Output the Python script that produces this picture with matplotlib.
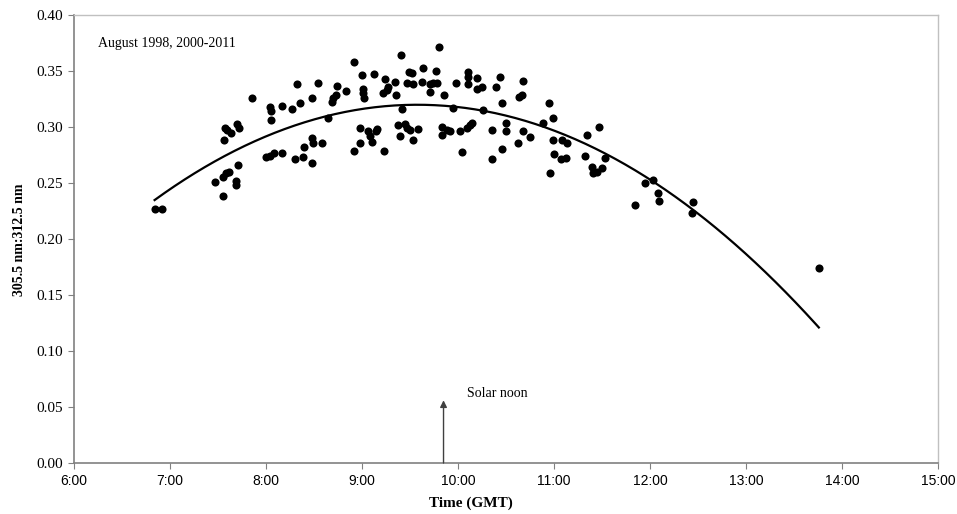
import numpy as np
import matplotlib
matplotlib.use("Agg")
import matplotlib.pyplot as plt
from matplotlib.ticker import FuncFormatter, MultipleLocator

# observation time (decimal hours GMT) and ratio 305.5 nm : 312.5 nm
times = [6.84, 6.92, 7.55, 7.47, 7.55, 7.58, 7.61, 7.69, 7.69, 7.71,
         7.56, 7.57, 7.59, 7.64, 7.70, 7.72, 7.85, 8.00, 8.04, 8.08,
         8.17, 8.04, 8.05, 8.05, 8.17, 8.27, 8.32, 8.30, 8.35, 8.39,
         8.48, 8.40, 8.48, 8.49, 8.58, 8.48, 8.54, 8.65, 8.69, 8.70,
         8.73, 8.74, 8.83, 8.92, 9.00, 9.01, 9.01, 9.02, 9.13, 9.24,
         9.22, 9.26, 9.27, 9.34, 9.35, 9.41, 9.42, 9.49, 9.52, 9.47,
         9.53, 9.64, 9.63, 9.71, 9.71, 9.74, 9.77, 9.78, 9.80, 9.85,
         8.92, 8.98, 8.98, 9.06, 9.08, 9.10, 9.15, 9.16, 9.23, 9.38,
         9.40, 9.45, 9.47, 9.50, 9.53, 9.58, 9.83, 9.83, 9.89, 9.95,
         9.92, 10.02, 10.04, 9.98, 10.10, 10.10, 10.10, 10.20, 10.20, 10.25,
         10.09, 10.13, 10.15, 10.26, 10.35, 10.36, 10.40, 10.44, 10.46, 10.46,
         10.50, 10.50, 10.63, 10.64, 10.67, 10.68, 10.68, 10.75, 10.89, 10.95,
         10.96, 10.99, 10.99, 11.00, 11.07, 11.13, 11.08, 11.14, 11.32, 11.34,
         11.40, 11.41, 11.45, 11.47, 11.53, 11.50, 11.95, 12.03, 12.08, 12.10,
         11.84, 12.45, 12.44, 13.76]
ratios = [0.227, 0.227, 0.238, 0.251, 0.255, 0.259, 0.260, 0.252, 0.248, 0.266,
          0.288, 0.299, 0.297, 0.295, 0.303, 0.299, 0.326, 0.273, 0.274, 0.277,
          0.277, 0.318, 0.314, 0.306, 0.319, 0.316, 0.338, 0.271, 0.321, 0.273,
          0.268, 0.282, 0.290, 0.286, 0.286, 0.326, 0.339, 0.308, 0.322, 0.326,
          0.329, 0.337, 0.332, 0.358, 0.346, 0.334, 0.330, 0.326, 0.347, 0.343,
          0.330, 0.333, 0.336, 0.340, 0.329, 0.364, 0.316, 0.349, 0.348, 0.339,
          0.338, 0.353, 0.340, 0.338, 0.331, 0.339, 0.350, 0.339, 0.371, 0.329,
          0.279, 0.286, 0.299, 0.296, 0.292, 0.287, 0.296, 0.298, 0.279, 0.302,
          0.292, 0.303, 0.299, 0.297, 0.288, 0.298, 0.300, 0.293, 0.297, 0.317,
          0.296, 0.296, 0.278, 0.339, 0.349, 0.345, 0.338, 0.344, 0.334, 0.336,
          0.299, 0.302, 0.304, 0.315, 0.297, 0.271, 0.336, 0.345, 0.280, 0.321,
          0.304, 0.296, 0.286, 0.327, 0.329, 0.341, 0.296, 0.291, 0.304, 0.321,
          0.259, 0.308, 0.288, 0.276, 0.271, 0.272, 0.288, 0.286, 0.274, 0.293,
          0.264, 0.259, 0.260, 0.300, 0.272, 0.263, 0.250, 0.253, 0.241, 0.234,
          0.230, 0.233, 0.223, 0.174]

solar_noon = 9.85
title_text = "August 1998, 2000-2011"

serif = ["Liberation Serif", "DejaVu Serif"]
sans = ["Liberation Sans", "DejaVu Sans"]

fig = plt.figure(figsize=(9.57, 5.14), dpi=100)
ax = fig.add_axes([0.0773, 0.0992, 0.9027, 0.8716])

t = np.array(times)
r = np.array(ratios)

# 2nd order polynomial trend line over the data range
coef = np.polyfit(t, r, 2)
xs = np.linspace(t.min(), t.max(), 200)
ax.plot(xs, np.polyval(coef, xs), color="black", lw=1.6, zorder=2)

ax.scatter(t, r, s=34, color="black", zorder=3, linewidths=0)

ax.set_xlim(6, 15)
ax.set_ylim(0, 0.40)
ax.xaxis.set_major_locator(MultipleLocator(1))
ax.yaxis.set_major_locator(MultipleLocator(0.05))
ax.xaxis.set_major_formatter(FuncFormatter(lambda v, p: f"{int(round(v))}:00"))
ax.yaxis.set_major_formatter(FuncFormatter(lambda v, p: f"{v:.2f}"))

for lab in ax.get_xticklabels():
    lab.set_family(sans)
    lab.set_fontsize(10)
for lab in ax.get_yticklabels():
    lab.set_family(serif)
    lab.set_fontsize(11)

ax.tick_params(axis="both", direction="out", length=4, color="#808080", pad=4)
for side in ("left", "bottom"):
    ax.spines[side].set_color("#808080")
    ax.spines[side].set_linewidth(1.2)
for side in ("top", "right"):
    ax.spines[side].set_color("#c0c0c0")
    ax.spines[side].set_linewidth(1.0)

ax.text(6.25, 0.375, title_text, family=serif, fontsize=10, va="center", ha="left")

ax.annotate("", xy=(solar_noon, 0.056), xytext=(solar_noon, 0.0),
            arrowprops=dict(arrowstyle="-|>", color="#404040", lw=1.0,
                            mutation_scale=10, shrinkA=0, shrinkB=0))
ax.text(10.09, 0.0625, "Solar noon", family=serif, fontsize=10, va="center", ha="left")

fig.text(471 / 957, 1 - 503 / 514, "Time (GMT)", family=serif, fontsize=11,
         fontweight="bold", ha="center", va="center")
fig.text(20 / 957, 1 - 240 / 514, "305.5 nm:312.5 nm", family=serif, fontsize=10,
         fontweight="bold", ha="center", va="center", rotation=90)

fig.savefig("out.png", dpi=100)
